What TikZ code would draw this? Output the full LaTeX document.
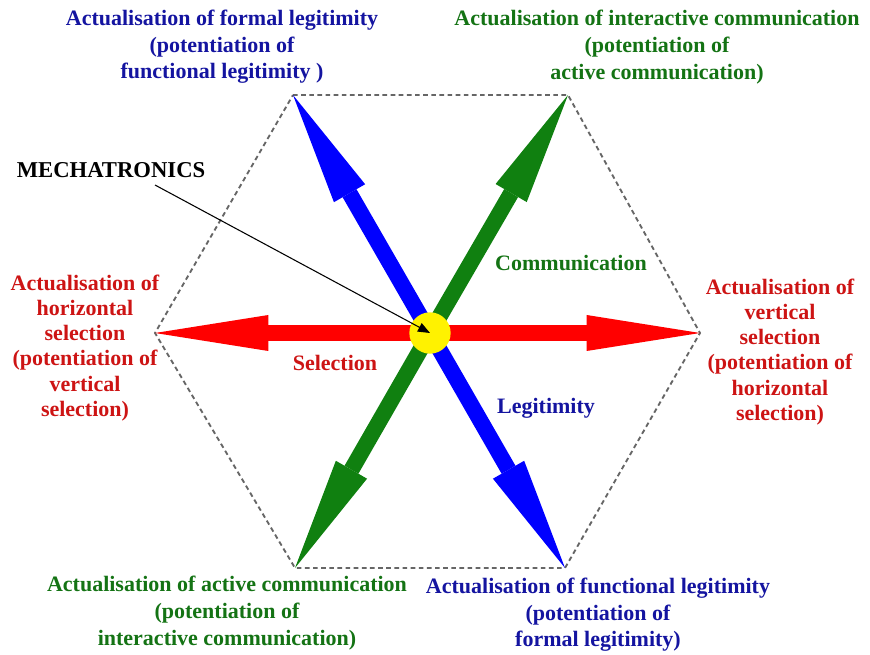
\documentclass[tikz,border=0pt]{standalone}
\usepackage{fontspec}
\setmainfont{Liberation Serif}
\usetikzlibrary{arrows.meta}

\definecolor{selred}{RGB}{255,0,0}
\definecolor{legblue}{RGB}{0,0,255}
\definecolor{comgreen}{RGB}{16,128,16}
\definecolor{txtred}{RGB}{205,20,20}
\definecolor{txtblue}{RGB}{20,20,160}
\definecolor{txtgreen}{RGB}{20,115,20}

\begin{document}
\begin{tikzpicture}[
        x=0.75pt, y=-0.75pt,
        lab/.style={
            align=center,
            inner sep=0pt,
            font=\bfseries\fontsize{16.5}{20}\selectfont
        },
        sidelab/.style={
            lab,
            font=\bfseries\fontsize{16.5}{18.8}\selectfont
        },
        bigarrow/.style={
            -{Triangle[length=85pt, width=27pt, line width=0pt]},
            line width=12pt
        },
        hexa/.style={
            draw=black!60,
            line width=1.4pt,
            dash pattern=on 3.5pt off 2.6pt
        },
        hub/.style={
            circle,
            fill=yellow,
            minimum size=31pt,
            inner sep=0pt
        },
        pointer/.style={
            -{Triangle[length=9pt, width=7pt]},
            line width=0.8pt
        }
    ]
    \useasboundingbox (0,0) rectangle (870,655);

    % Hexagon corners
    \coordinate (c) at (430,333);
    \coordinate (tl) at (293,95);
    \coordinate (tr) at (568,95);
    \coordinate (r) at (700,333);
    \coordinate (br) at (565,568);
    \coordinate (bl) at (295,568);
    \coordinate (l) at (155,333);

    \draw[hexa] (tl) -- (tr) -- (r) -- (br) -- (bl) -- (l) -- cycle;

    % Arrows
    \draw[bigarrow, comgreen] (c) -- (tr);
    \draw[bigarrow, comgreen] (c) -- (bl);
    \draw[bigarrow, legblue] (c) -- (tl);
    \draw[bigarrow, legblue] (c) -- (br);
    \draw[bigarrow, selred] (c) -- (r);
    \draw[bigarrow, selred] (c) -- (l);

    \node[hub] (hub) at (c) {};

    % Labels
    \node[lab, txtblue] (formal) at (222,47) {Actualisation of formal legitimity\\(potentiation of\\functional legitimity )};
    \node[lab, txtgreen] (interactive) at (657,47) {Actualisation of interactive communication\\(potentiation of\\active communication)};
    \node[sidelab, txtred] (horizontal) at (85,348) {Actualisation of\\horizontal\\selection\\(potentiation of\\vertical\\selection)};
    \node[sidelab, txtred] (vertical) at (780,352) {Actualisation of\\vertical\\selection\\(potentiation of\\horizontal\\selection)};
    \node[lab, txtgreen] (active) at (227,613) {Actualisation of active communication\\(potentiation of\\interactive communication)};
    \node[lab, txtblue] (functional) at (598,615) {Actualisation of functional legitimity\\(potentiation of\\formal legitimity)};

    \node[lab, txtred] (selection) at (335,363) {Selection};
    \node[lab, txtgreen] (communication) at (571,263) {Communication};
    \node[lab, txtblue] (legitimity) at (546,408) {Legitimity};

    \node[lab, black, font=\bfseries\fontsize{17}{20}\selectfont] (mech) at (111,170) {MECHATRONICS};
    \draw[pointer] (155,185) -- (hub.center);

\end{tikzpicture}
\end{document}
